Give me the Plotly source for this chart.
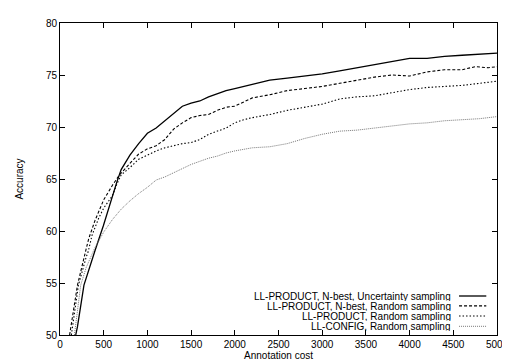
import plotly.graph_objects as go

# ---- data ----
unc_x = [180, 200, 274, 300, 385, 400, 496, 550, 600, 650, 700, 800, 900, 1000, 1100, 1200, 1300, 1400,
         1500, 1600, 1700, 1800, 1900, 2000, 2200, 2400, 2600, 2800, 3000, 3200, 3400, 3600, 3800,
         4000, 4200, 4400, 4600, 4800, 5000]
unc_y = [50.0, 50.8, 54.8, 55.5, 57.7, 58.1, 60.5, 62.0, 63.4, 64.7, 65.9, 67.3, 68.4, 69.4, 69.9, 70.6,
         71.3, 72.0, 72.3, 72.5, 72.9, 73.2, 73.5, 73.7, 74.1, 74.5, 74.7, 74.9, 75.1, 75.4, 75.7,
         76.0, 76.3, 76.6, 76.6, 76.8, 76.9, 77.0, 77.1]

nb_x = [110, 200, 300, 330, 400, 459, 500, 600, 681, 800, 900, 1000, 1100, 1200, 1300, 1400, 1500,
        1600, 1700, 1800, 1900, 2000, 2100, 2200, 2400, 2600, 2800, 3000, 3200, 3400, 3600, 3800,
        4000, 4200, 4400, 4600, 4750, 4900, 5000]
nb_y = [50.0, 54.8, 58.3, 59.3, 61.0, 62.3, 63.0, 64.4, 65.4, 66.5, 67.4, 67.9, 68.2, 68.8, 69.8, 70.4,
        70.9, 71.1, 71.2, 71.6, 71.9, 72.0, 72.4, 72.8, 73.1, 73.5, 73.7, 73.9, 74.2, 74.5, 74.8,
        75.0, 74.9, 75.3, 75.5, 75.5, 75.8, 75.7, 75.8]

pr_x = [130, 211, 300, 322, 367, 400, 441, 500, 600, 650, 700, 800, 900, 1000, 1100, 1200, 1300, 1400,
        1500, 1600, 1700, 1800, 1900, 2000, 2100, 2200, 2400, 2600, 2800, 3000, 3200, 3400, 3600,
        3800, 4000, 4200, 4400, 4600, 4800, 5000]
pr_y = [50.0, 54.8, 57.5, 58.0, 59.6, 60.3, 61.2, 62.2, 63.4, 64.5, 65.4, 66.1, 66.9, 67.3, 67.7, 68.0,
        68.2, 68.4, 68.5, 68.8, 69.3, 69.6, 69.9, 70.4, 70.7, 70.9, 71.2, 71.6, 71.9, 72.2, 72.7,
        72.9, 73.0, 73.3, 73.6, 73.8, 73.9, 74.0, 74.2, 74.4]

cf_x = [165, 237, 300, 394, 441, 500, 600, 700, 800, 900, 1000, 1100, 1200, 1300, 1400, 1500, 1600,
        1700, 1800, 1900, 2000, 2200, 2400, 2600, 2800, 3000, 3200, 3400, 3600, 3800, 4000, 4200,
        4400, 4600, 4800, 5000]
cf_y = [50.0, 54.8, 56.5, 58.3, 59.0, 59.9, 61.1, 62.1, 62.9, 63.6, 64.2, 64.9, 65.2, 65.6, 66.0, 66.4,
        66.7, 67.0, 67.2, 67.5, 67.7, 68.0, 68.1, 68.4, 68.9, 69.3, 69.6, 69.7, 69.9, 70.1, 70.3,
        70.4, 70.6, 70.7, 70.8, 71.0]

names = ["LL-PRODUCT, N-best, Uncertainty sampling",
         "LL-PRODUCT, N-best, Random sampling",
         "LL-PRODUCT, Random sampling",
         "LL-CONFIG, Random sampling"]

x_ticks = [0, 500, 1000, 1500, 2000, 2500, 3000, 3500, 4000, 4500, 5000]
y_ticks = [50, 55, 60, 65, 70, 75, 80]

styles = [
    dict(color="#000000", width=1.3, dash="solid"),
    dict(color="#000000", width=1.1, dash="3px,2px"),
    dict(color="#000000", width=1.1, dash="1.5px,2px"),
    dict(color="#777777", width=1.0, dash="1px,1px"),
]

series = [(unc_x, unc_y), (nb_x, nb_y), (pr_x, pr_y), (cf_x, cf_y)]

fig = go.Figure()
for (xs, ys), nm, st in zip(series, names, styles):
    fig.add_trace(go.Scatter(x=xs, y=ys, mode="lines", name=nm, line=st, showlegend=False))

# custom gnuplot-like legend: right-aligned text with sample to the right
W, H = 449.0, 316.0
L, B = 52.0, 331.0
rows_py = [291.5, 301.5, 311.8, 322.2]
for nm, st, py in zip(names, styles, rows_py):
    yp = (B - py) / H
    fig.add_annotation(x=(455 - L) / W, y=yp, xref="paper", yref="paper", text=nm,
                       showarrow=False, xanchor="right", yanchor="middle", height=10,
                       borderpad=0,
                       font=dict(family="Liberation Sans", size=10, color="#000"))
    fig.add_shape(type="line", xref="paper", yref="paper",
                  x0=(462 - L) / W, x1=(490 - L) / W, y0=yp, y1=yp, line=st)

axis_common = dict(showline=True, linecolor="#000", linewidth=1, mirror="ticks",
                   ticks="inside", ticklen=5, tickcolor="#000", showgrid=False, zeroline=False,
                   tickfont=dict(family="Liberation Sans", size=10, color="#000"))

fig.update_layout(
    width=510, height=360,
    margin=dict(l=52, r=9, t=15, b=29),
    paper_bgcolor="white", plot_bgcolor="white",
    xaxis=dict(range=[0, 5000], tickvals=x_ticks, ticktext=[str(v) for v in x_ticks],
               ticklabeloverflow="allow",
               title=dict(text="Annotation cost", standoff=2,
                          font=dict(family="Liberation Sans", size=10, color="#000")),
               **axis_common),
    yaxis=dict(range=[50, 80], tickvals=y_ticks, ticktext=[str(v) for v in y_ticks],
               title=dict(text="Accuracy", standoff=20,
                          font=dict(family="Liberation Sans", size=10, color="#000")),
               **axis_common),
)

fig.write_html("out.html")
